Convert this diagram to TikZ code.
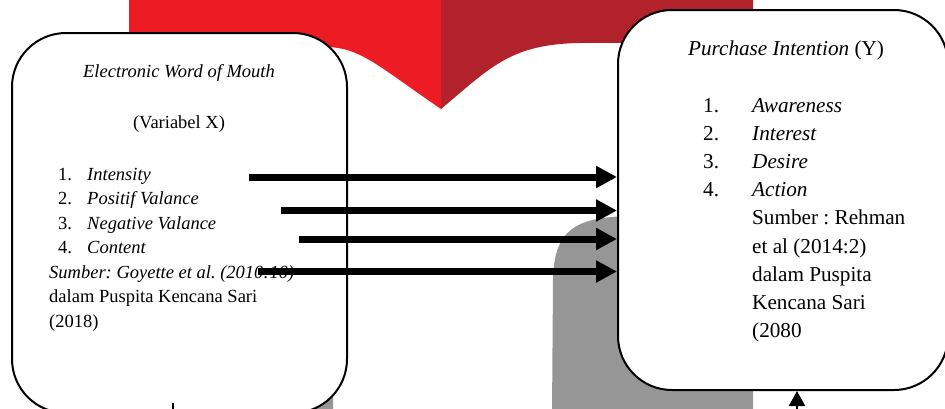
\documentclass[tikz,border=0pt]{standalone}
\usepackage{fontspec}
\setmainfont{Liberation Serif}
\usetikzlibrary{arrows.meta}
\definecolor{redA}{RGB}{237,28,36}
\definecolor{redB}{RGB}{178,34,42}
\definecolor{grayA}{RGB}{150,150,150}
\frenchspacing
\begin{document}
\begin{tikzpicture}[x=1pt,y=-1pt,
  box/.style={draw=black, line width=2pt, fill=white, rounded corners=54pt, inner sep=0pt},
  ltxt/.style={inner sep=0pt, anchor=base west, font=\fontsize{18.5}{22}\selectfont},
  lctr/.style={inner sep=0pt, anchor=base, font=\fontsize{18.5}{22}\selectfont},
  rtxt/.style={inner sep=0pt, anchor=base west, font=\fontsize{21.2}{25}\selectfont},
  rctr/.style={inner sep=0pt, anchor=base, font=\fontsize{21.2}{25}\selectfont},
  arr/.style={line width=7pt, -{Triangle[length=21pt,width=21pt]}},
  uparr/.style={line width=2pt, -{Triangle[length=15pt,width=16pt]}}
]
\useasboundingbox (0,0) rectangle (945,408);
\clip (0,0) rectangle (945,408);
% red chevron
\fill[redA] (129,-5) -- (441,-5) -- (441,109)
  .. controls (378,66) and (360,47) .. (325,47) -- (129,46) -- cycle;
\fill[redB] (441,-5) -- (753,-5) -- (753,42) -- (580,43)
  .. controls (510,44) and (490,68) .. (441,109) -- cycle;
% gray shapes
\fill[grayA] (552,415) -- (553,280) .. controls (554,225) and (580,216) .. (640,216)
  -- (700,216) .. controls (740,216) and (753,240) .. (753,280) -- (753,415) -- cycle;
\fill[grayA] (129,415) -- (129,280) .. controls (129,240) and (142,216) .. (182,216)
  -- (242,216) .. controls (302,216) and (332,225) .. (333,280) -- (333,415) -- cycle;
% boxes
\node[box, minimum width=335pt, minimum height=380pt] (X) at (179.5,223) {};
\node[box, minimum width=330pt, minimum height=380pt] (Y) at (783,200) {};
% left text
\node[lctr] (xt1) at (179,77) {\itshape Electronic Word of Mouth};
\node[lctr] (xt2) at (179,128) {(Variabel X)};
\node[ltxt] (xn1) at (58,180) {1.};
\node[ltxt] (xi1) at (87,180) {\itshape Intensity};
\node[ltxt] (xn2) at (58,204.5) {2.};
\node[ltxt] (xi2) at (87,204.5) {\itshape Positif Valance};
\node[ltxt] (xn3) at (58,229) {3.};
\node[ltxt] (xi3) at (87,229) {\itshape Negative Valance};
\node[ltxt] (xn4) at (58,253.5) {4.};
\node[ltxt] (xi4) at (87,253.5) {\itshape Content};
\node[ltxt] (xs1) at (49,278) {\itshape Sumber: Goyette et al. (2010:10)};
\node[ltxt] (xs2) at (49,302.5) {dalam Puspita Kencana Sari};
\node[ltxt] (xs3) at (49,327) {(2018)};
% right text
\node[rctr] (yt1) at (786,55) {\itshape Purchase Intention\upshape{} (Y)};
\node[rtxt] (yn1) at (703,112) {1.};
\node[rtxt] (yi1) at (752,112) {\itshape Awareness};
\node[rtxt] (yn2) at (703,140.2) {2.};
\node[rtxt] (yi2) at (752,140.2) {\itshape Interest};
\node[rtxt] (yn3) at (703,168.4) {3.};
\node[rtxt] (yi3) at (752,168.4) {\itshape Desire};
\node[rtxt] (yn4) at (703,196.6) {4.};
\node[rtxt] (yi4) at (752,196.6) {\itshape Action};
\node[rtxt] (ys1) at (752,224.8) {Sumber : Rehman};
\node[rtxt] (ys2) at (752,253) {et al (2014:2)};
\node[rtxt] (ys3) at (752,281.2) {dalam Puspita};
\node[rtxt] (ys4) at (752,309.4) {Kencana Sari};
\node[rtxt] (ys5) at (752,337.6) {(2080};
% arrows
\coordinate (s1) at (249,177);
\coordinate (s2) at (281,210.5);
\coordinate (s3) at (299,239);
\coordinate (s4) at (258,271.5);
\foreach \s in {s1,s2,s3,s4} \draw[arr] (\s) -- (\s -| Y.west);
\coordinate (u) at (797,412);
\draw[uparr] (u) -- (u |- Y.south);
\coordinate (d1) at (173,403);
\coordinate (d2) at (173,412);
\draw[line width=2pt] (d1) -- (d2);
\end{tikzpicture}
\end{document}
